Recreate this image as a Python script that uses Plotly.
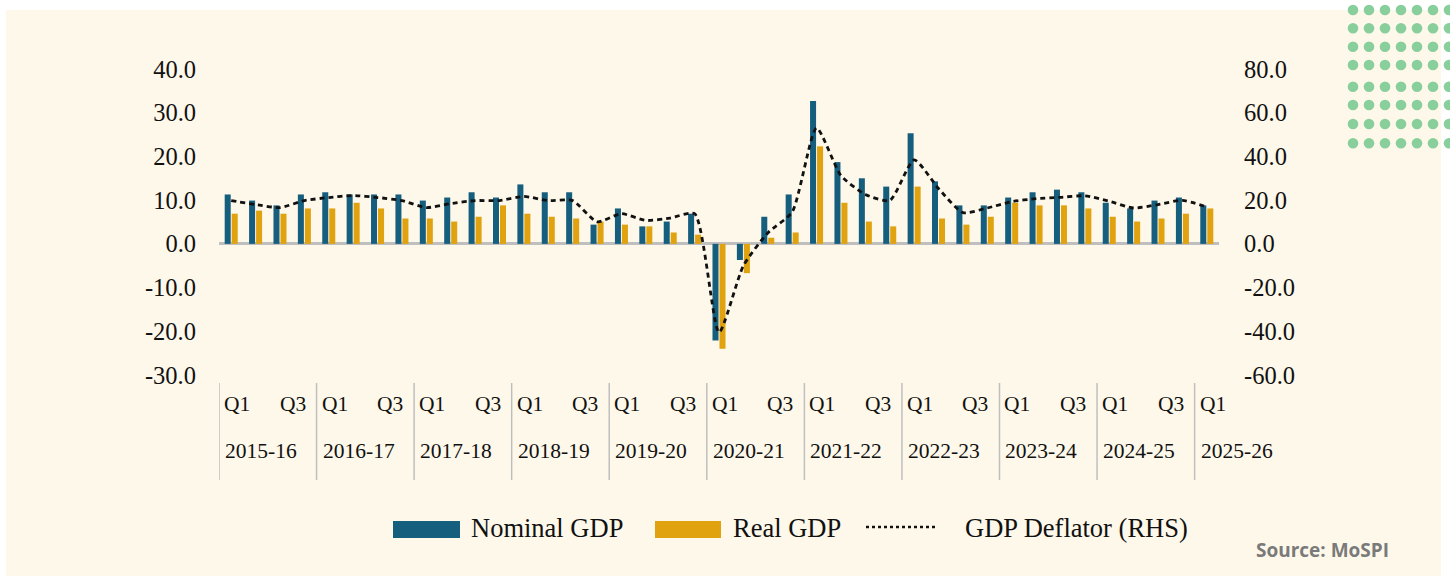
import plotly.graph_objects as go

# ---------------- data ----------------
years = ["2015-16", "2016-17", "2017-18", "2018-19", "2019-20", "2020-21",
         "2021-22", "2022-23", "2023-24", "2024-25", "2025-26"]
quarters = ["Q1", "Q2", "Q3", "Q4"]
categories = [f"{y} {q}" for y in years for q in quarters][:41]

nominal_gdp = [11.3, 9.9, 8.8, 11.3, 11.8, 11.3, 11.3, 11.3, 9.9, 10.6, 11.8, 10.6,
               13.6, 11.8, 11.8, 4.4, 8.1, 4.0, 5.1, 6.9, -22.1, -3.7, 6.2, 11.3,
               32.7, 18.7, 15.0, 13.1, 25.3, 14.3, 8.8, 8.8, 10.6, 11.8, 12.4, 11.8,
               9.4, 8.1, 9.9, 10.6, 8.8]
real_gdp = [6.9, 7.6, 6.9, 8.1, 8.1, 9.4, 8.1, 5.8, 5.8, 5.1, 6.2, 8.8,
            6.9, 6.2, 5.8, 5.1, 4.4, 4.0, 2.6, 2.1, -24.0, -6.7, 1.4, 2.6,
            22.3, 9.4, 5.1, 4.0, 13.1, 5.8, 4.4, 6.2, 9.4, 8.8, 8.8, 8.1,
            6.2, 5.1, 5.8, 6.9, 8.1]
gdp_deflator = [19.8, 18.0, 16.6, 19.8, 21.2, 22.1, 21.2, 19.8, 16.6, 18.4, 19.8, 19.8,
                21.7, 19.8, 19.8, 10.1, 13.8, 10.7, 11.8, 13.8, -40.5, -10.0, 5.0, 14.6,
                53.0, 31.2, 22.6, 19.8, 38.4, 25.3, 14.3, 16.4, 19.3, 20.7, 21.3, 22.0,
                19.5, 16.4, 18.0, 19.9, 16.9]

left_ticks = [40, 30, 20, 10, 0, -10, -20, -30]
right_ticks = [80, 60, 40, 20, 0, -20, -40, -60]

# ---------------- style ----------------
W, H = 1450, 576
L, R, T, B = 219, 231, 69, 201
PW, PH = W - L - R, H - T - B
C_NOM = "#155E7D"
C_REAL = "#E0A20E"
CREAM = "#FEF8EA"
GRID = "#BFBFBF"
SERIF = "Liberation Serif, Times New Roman, serif"


def px(x):
    return (x - L) / PW


def py(y):
    return (H - B - y) / PH


fig = go.Figure()
fig.add_trace(go.Bar(x=categories, y=nominal_gdp, name="Nominal GDP",
                     marker=dict(color=C_NOM, line=dict(width=0))))
fig.add_trace(go.Bar(x=categories, y=real_gdp, name="Real GDP",
                     marker=dict(color=C_REAL, line=dict(width=0))))
fig.add_trace(go.Scatter(x=categories, y=gdp_deflator, name="GDP Deflator (RHS)",
                         yaxis="y2", mode="lines",
                         line=dict(color="#111111", width=2.8, dash="5px,4px",
                                   shape="spline", smoothing=0.6)))

shapes = []
annotations = []

# cream background panel
shapes.append(dict(type="rect", xref="paper", yref="paper", layer="below",
                   x0=px(6), x1=px(1441), y0=py(576), y1=py(10),
                   fillcolor=CREAM, line=dict(width=0)))

# decorative green dots (top-right)
dot_cols = [1353, 1369, 1385, 1401, 1417, 1433, 1449]
dot_rows = [10, 28.3, 46.7, 65, 86.7, 105, 124, 143.3]
rad = 5.3
for cy in dot_rows:
    for cx in dot_cols:
        shapes.append(dict(type="circle", xref="paper", yref="paper", layer="above",
                           x0=px(cx - rad), x1=px(cx + rad),
                           y0=py(cy + rad), y1=py(cy - rad),
                           fillcolor="#88CF9C", line=dict(width=0)))

# category group dividers and labels
n = len(categories)
xfont = dict(family=SERIF, size=21.5, color="#111111")
for gi, yr in enumerate(years):
    start = gi * 4
    if start >= n:
        break
    shapes.append(dict(type="line", xref="x", yref="paper",
                       x0=start - 0.5, x1=start - 0.5,
                       y0=py(383), y1=py(480),
                       line=dict(color=GRID, width=1.5)))
    annotations.append(dict(xref="x", yref="paper", x=start - 0.5, y=py(451),
                            text=yr, showarrow=False, xanchor="left", yanchor="middle",
                            xshift=4, font=xfont))
    annotations.append(dict(xref="x", yref="paper", x=start - 0.5, y=py(404),
                            text="Q1", showarrow=False, xanchor="left", yanchor="middle",
                            xshift=3, font=xfont))
    if start + 3 < n:
        annotations.append(dict(xref="x", yref="paper", x=start + 3.5, y=py(404),
                                text="Q3", showarrow=False, xanchor="right", yanchor="middle",
                                xshift=-9, font=xfont))

# manual legend
leg_font = dict(family=SERIF, size=26.5, color="#111111")
shapes.append(dict(type="rect", xref="paper", yref="paper",
                   x0=px(393), x1=px(460), y0=py(538), y1=py(521),
                   fillcolor=C_NOM, line=dict(width=0)))
annotations.append(dict(xref="paper", yref="paper", x=px(469), y=py(528),
                        text="Nominal GDP", showarrow=False, xanchor="left",
                        yanchor="middle", font=leg_font))
shapes.append(dict(type="rect", xref="paper", yref="paper",
                   x0=px(655), x1=px(721), y0=py(538), y1=py(521),
                   fillcolor=C_REAL, line=dict(width=0)))
annotations.append(dict(xref="paper", yref="paper", x=px(731), y=py(528),
                        text="Real GDP", showarrow=False, xanchor="left",
                        yanchor="middle", font=leg_font))
shapes.append(dict(type="line", xref="paper", yref="paper",
                   x0=px(866), x1=px(936), y0=py(527), y1=py(527),
                   line=dict(color="#111111", width=2.5, dash="3px,3px")))
annotations.append(dict(xref="paper", yref="paper", x=px(963), y=py(528),
                        text="GDP Deflator (RHS)", showarrow=False, xanchor="left",
                        yanchor="middle", font=leg_font))

# source
annotations.append(dict(xref="paper", yref="paper", x=px(1391), y=py(550),
                        text="<b>Source: MoSPI</b>", showarrow=False, xanchor="right",
                        yanchor="middle",
                        font=dict(family="Open Sans, Roboto, sans-serif", size=19,
                                  color="#7A7A7A")))

fig.update_layout(
    width=W, height=H,
    margin=dict(l=L, r=R, t=T, b=B, pad=0),
    paper_bgcolor="white",
    plot_bgcolor="rgba(0,0,0,0)",
    barmode="group",
    bargap=0.426,
    bargroupgap=0.14,
    showlegend=False,
    xaxis=dict(type="category", range=[-0.5, 40.5], showticklabels=False,
               showgrid=False, zeroline=False, showline=False, ticks=""),
    yaxis=dict(range=[-30, 40], tickvals=left_ticks,
               ticktext=[f"{v:.1f}" for v in left_ticks],
               showgrid=False, zeroline=True, zerolinecolor=GRID, zerolinewidth=2.5,
               showline=False, ticks="", ticklabelstandoff=22,
               tickfont=dict(family=SERIF, size=24.5, color="#111111")),
    yaxis2=dict(range=[-60, 80], tickvals=right_ticks,
                ticktext=[f"{v:.1f}" for v in right_ticks],
                overlaying="y", side="right",
                showgrid=False, zeroline=False, showline=False, ticks="",
                ticklabelstandoff=24,
                tickfont=dict(family=SERIF, size=24.5, color="#111111")),
    shapes=shapes,
    annotations=annotations,
)

fig.write_html("out.html",
               config={"displayModeBar": False},
               post_script="document.body.style.margin='0';document.body.style.overflow='hidden';")
